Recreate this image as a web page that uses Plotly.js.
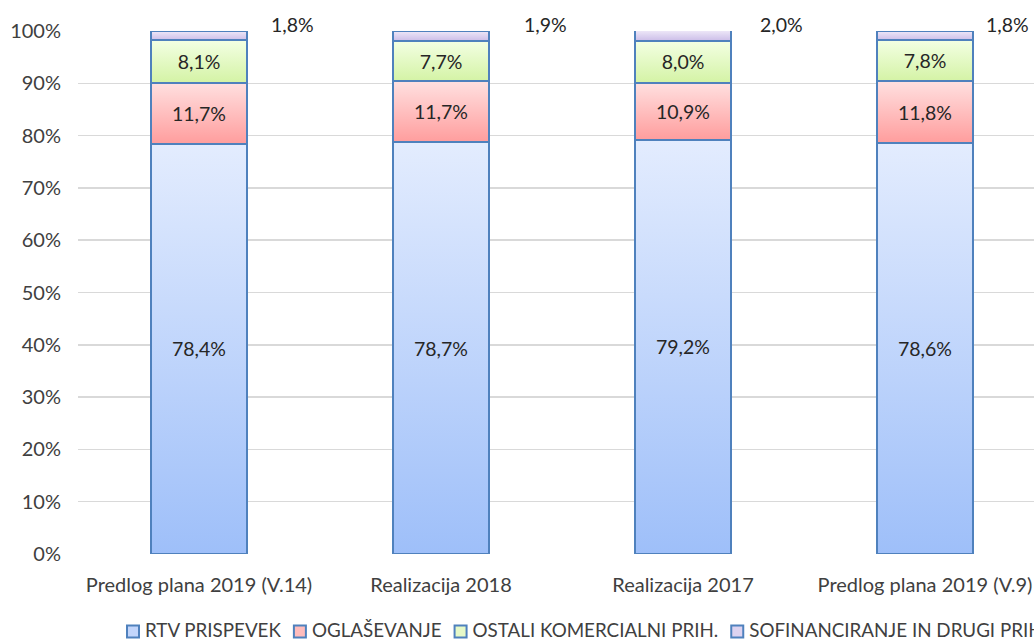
<!DOCTYPE html>
<html>
<head>
<meta charset="utf-8">
<script src="https://cdn.plot.ly/plotly-3.0.1.min.js"></script>
<style>
html,body{margin:0;padding:0;overflow:hidden;background:#fff;}
#chart{width:1060px;height:642px;}
</style>
</head>
<body>
<div id="chart"></div>
<script>
const categories = ["Predlog plana 2019 (V.14)", "Realizacija 2018", "Realizacija 2017", "Predlog plana 2019 (V.9)"];
const seriesNames = ["RTV PRISPEVEK", "OGLAŠEVANJE", "OSTALI KOMERCIALNI PRIH.", "SOFINANCIRANJE IN DRUGI PRIH."];
const rtvPrispevek = [78.4, 78.7, 79.2, 78.6];
const oglasevanje = [11.7, 11.7, 10.9, 11.8];
const ostaliKomercialni = [8.1, 7.7, 8.0, 7.8];
const sofinanciranje = [1.8, 1.9, 2.0, 1.8];
const yTicks = [0, 10, 20, 30, 40, 50, 60, 70, 80, 90, 100];

const FONT = "Lato, 'Open Sans', sans-serif";
const xIdx = categories.map((c, i) => i);
const fills = ["#c2d5fb", "#ffbcbc", "#e6f9c8", "#ddd3f0"];
const grads = [["#e3ecfe", "#9ebff9"], ["#ffe0e0", "#ff9d9d"], ["#f3ffe3", "#d4f3a5"], ["#eee8f8", "#cbbde8"]];
const allSeries = [rtvPrispevek, oglasevanje, ostaliKomercialni, sofinanciranje];
// horizontal pixel offsets of the small outside labels (as placed in the original)
const outsideLabelShift = [93, 104, 98, 82];

const traces = allSeries.map((vals, k) => ({
  type: "bar",
  name: seriesNames[k],
  x: xIdx,
  y: vals,
  width: 0.4,
  marker: {color: fills[k], line: {color: "#4f81bd", width: 2}},
  text: k < 3 ? vals.map(v => v.toFixed(1).replace(".", ",") + "%") : undefined,
  textposition: k < 3 ? "inside" : "none",
  insidetextanchor: "middle",
  textangle: 0,
  constraintext: "none",
  textfont: {family: FONT, size: 19.5, color: "#262626"},
  hoverinfo: "none"
}));

const annotations = sofinanciranje.map((v, i) => ({
  x: i, y: 100, xref: "x", yref: "y",
  text: v.toFixed(1).replace(".", ",") + "%",
  showarrow: false, xshift: outsideLabelShift[i], yshift: 7,
  font: {family: FONT, size: 19.5, color: "#262626"}
}));

const layout = {
  width: 1060, height: 642,
  margin: {l: 78, r: 14, t: 31, b: 88, autoexpand: false},
  barmode: "stack",
  separators: ",.",
  paper_bgcolor: "#fff", plot_bgcolor: "#fff",
  font: {family: FONT, size: 20, color: "#404040"},
  xaxis: {
    range: [-0.5, 3.5], tickvals: xIdx, ticktext: categories,
    showgrid: false, zeroline: false, showline: false, ticks: "",
    ticklabelstandoff: 17,
    tickfont: {family: FONT, size: 20, color: "#404040"}
  },
  yaxis: {
    range: [0, 100], tickvals: yTicks, ticktext: yTicks.map(t => t + "%"),
    showgrid: true, gridcolor: "#d9d9d9", gridwidth: 1.5,
    zeroline: false, showline: false, ticks: "",
    ticklabelstandoff: 16,
    tickfont: {family: FONT, size: 20, color: "#404040"}
  },
  showlegend: true,
  legend: {
    orientation: "h", xref: "container", x: 0, xanchor: "left",
    yref: "container", y: 0.016, yanchor: "middle",
    font: {family: FONT, size: 15, color: "#404040"},
    itemwidth: 30, traceorder: "normal", tracegroupgap: 0
  },
  annotations: annotations
};

const LEGEND_FONT_PX = 18.8;

Plotly.newPlot("chart", traces, layout, {displayModeBar: false, staticPlot: true}).then(gd => {
  const svg = gd.querySelector("svg.main-svg");
  const ns = "http://www.w3.org/2000/svg";
  let defs = svg.querySelector("defs");
  if (!defs) { defs = document.createElementNS(ns, "defs"); svg.insertBefore(defs, svg.firstChild); }
  grads.forEach((g, k) => {
    const lg = document.createElementNS(ns, "linearGradient");
    lg.setAttribute("id", "bargrad" + k);
    lg.setAttribute("x1", "0"); lg.setAttribute("y1", "0");
    lg.setAttribute("x2", "0"); lg.setAttribute("y2", "1");
    [[0, g[0]], [1, g[1]]].forEach(([o, c]) => {
      const st = document.createElementNS(ns, "stop");
      st.setAttribute("offset", o); st.setAttribute("stop-color", c);
      lg.appendChild(st);
    });
    defs.appendChild(lg);
  });
  gd.querySelectorAll(".barlayer .trace").forEach((tr, k) => {
    tr.querySelectorAll("path").forEach(p => { p.style.fill = "url(#bargrad" + k + ")"; });
  });
  // compact Excel-like legend: larger text, tight symbol/text spacing
  const parseT = el => {
    const m = (el.getAttribute("transform") || "").match(/translate\(\s*([-\d.]+)[ ,]+([-\d.]+)\s*\)/);
    return m ? [parseFloat(m[1]), parseFloat(m[2])] : [0, 0];
  };
  const scroll = gd.querySelector("g.legend .scrollbox");
  if (scroll) scroll.removeAttribute("clip-path");
  const items = Array.from(gd.querySelectorAll(".legend .traces"));
  let cur = null, y0 = 0;
  const TEXT_X = 32;
  items.forEach((g, k) => {
    const [tx, ty] = parseT(g);
    if (k === 0) { cur = tx; y0 = ty; }
    const txt = g.querySelector("text.legendtext");
    let w = 0;
    if (txt) {
      txt.style.fontSize = LEGEND_FONT_PX + "px";
      txt.setAttribute("x", TEXT_X);
      txt.querySelectorAll("tspan").forEach(ts => { if (ts.hasAttribute("x")) ts.setAttribute("x", TEXT_X); });
      w = txt.getComputedTextLength();
    }
    g.setAttribute("transform", "translate(" + cur + "," + y0 + ")");
    cur = cur + TEXT_X + w + 13 - 14;
  });
  const leg = gd.querySelector("g.legend");
  if (leg && items.length) {
    const [lx, ly] = parseT(leg);
    const firstX = parseT(items[0])[0];
    leg.setAttribute("transform", "translate(" + (127 - 14 - firstX) + "," + ly + ")");
  }
});
</script>
</body>
</html>
